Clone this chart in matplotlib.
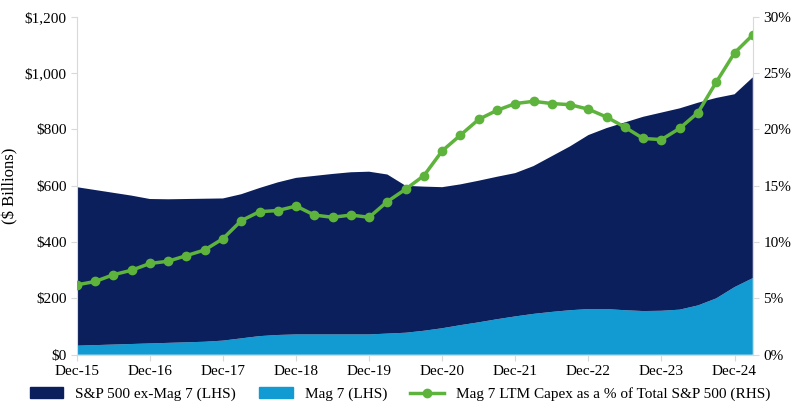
import matplotlib
matplotlib.use("Agg")
import matplotlib.pyplot as plt
import numpy as np
from matplotlib.lines import Line2D
from matplotlib.patches import Patch

plt.rcParams["font.family"] = "Liberation Serif"

tick_labels = ["Dec-15","Dec-16","Dec-17","Dec-18","Dec-19","Dec-20","Dec-21","Dec-22","Dec-23","Dec-24"]
total = [595,585,575,565,553,552,553,554,555,570,592,612,628,635,642,648,650,640,600,597,
         595,605,618,632,645,670,705,740,780,805,825,845,860,875,895,912,925,985]
mag7 = [32,34,36,38,40,42,44,46,50,58,66,70,72,72,72,72,72,75,78,85,
        94,105,115,126,136,145,152,158,162,162,158,155,156,160,175,200,240,272]
pct = [6.2,6.5,7.1,7.5,8.1,8.3,8.8,9.3,10.3,11.9,12.7,12.8,13.2,12.4,12.2,12.4,12.2,13.6,14.7,15.9,
       18.1,19.5,20.9,21.7,22.3,22.5,22.3,22.2,21.8,21.1,20.2,19.2,19.1,20.1,21.5,24.2,26.8,28.4]
ex_mag7 = [t - m for t, m in zip(total, mag7)]

x = np.arange(len(total))
navy = "#0b1f5c"
light = "#129ad3"
green = "#5db33c"

fig = plt.figure(figsize=(8, 4.11), dpi=100)
ax = fig.add_axes([0.096, 0.137, 0.845, 0.822])
ax.stackplot(x, mag7, ex_mag7, colors=[light, navy], linewidth=0)
ax.set_xlim(0, len(x) - 1)
ax.set_ylim(0, 1200)
ax.set_yticks(range(0, 1201, 200))
ax.set_yticklabels([f"${v:,}" for v in range(0, 1201, 200)], fontsize=11)
ax.set_xticks(np.arange(0, len(x), 4))
ax.set_xticklabels(tick_labels, fontsize=11)
ax.set_ylabel("($ Billions)", fontsize=12)
for s in ["top", "right"]:
    ax.spines[s].set_visible(False)
ax.spines["left"].set_color("#d9d9d9")
ax.spines["bottom"].set_color("#d9d9d9")
ax.tick_params(axis="both", colors="#d9d9d9", labelcolor="black", length=4)

ax2 = ax.twinx()
ax2.plot(x, pct, color=green, lw=2.5, marker="o", ms=6)
ax2.set_ylim(0, 30)
ax2.set_yticks(range(0, 31, 5))
ax2.set_yticklabels([f"{v}%" for v in range(0, 31, 5)], fontsize=11)
for s in ["top", "left", "bottom"]:
    ax2.spines[s].set_visible(False)
ax2.spines["right"].set_color("#d9d9d9")
ax2.tick_params(axis="y", colors="#d9d9d9", labelcolor="black", length=4)

handles = [Patch(color=navy), Patch(color=light),
           Line2D([], [], color=green, lw=2.5, marker="o", ms=6)]
labels = ["S&P 500 ex-Mag 7 (LHS)", "Mag 7 (LHS)", "Mag 7 LTM Capex as a % of Total S&P 500 (RHS)"]
fig.legend(handles, labels, loc="lower center", ncol=3, frameon=False, fontsize=11,
           bbox_to_anchor=(0.5, -0.01), handlelength=2.2, columnspacing=1.5)
fig.savefig("out.png", dpi=100)
